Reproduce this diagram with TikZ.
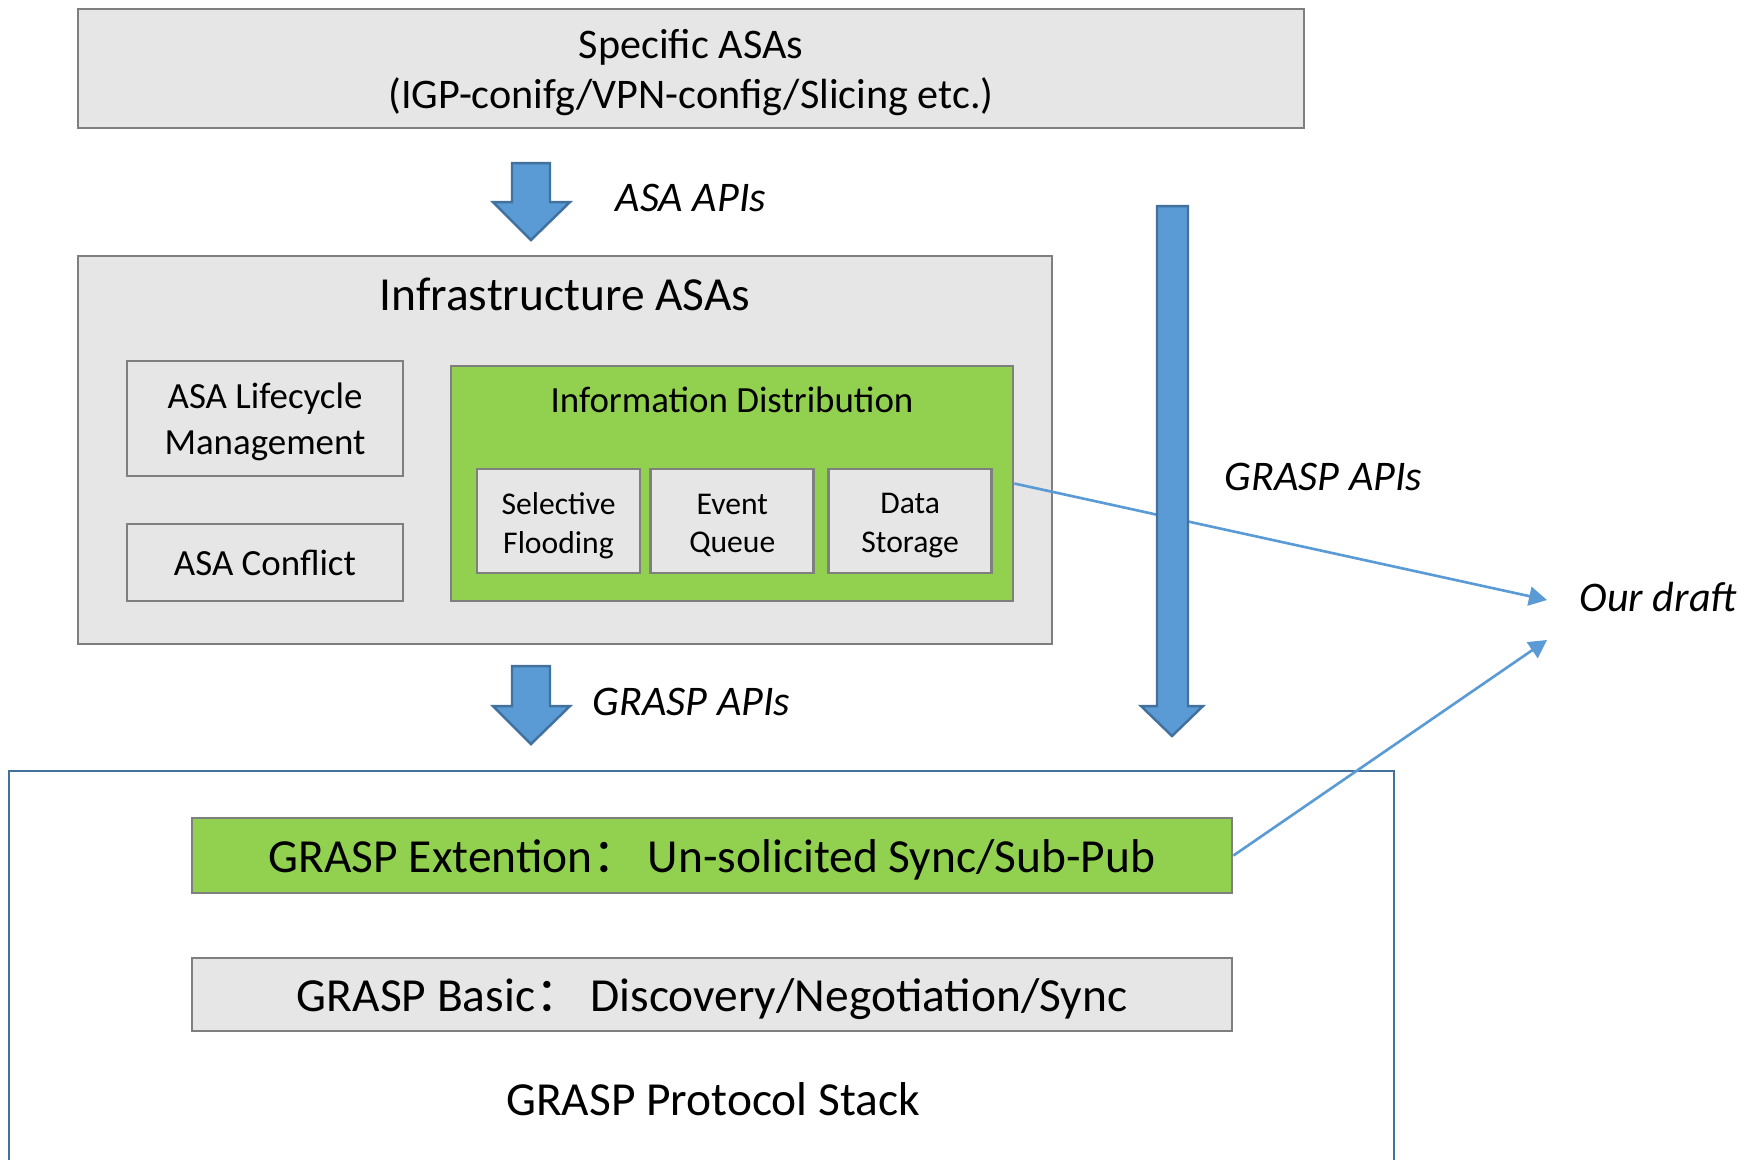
\documentclass[tikz,border=0pt]{standalone}
\usepackage{fontspec}
\setmainfont{Carlito}
\newfontfamily\cjk{Noto Sans CJK SC}
\usetikzlibrary{arrows.meta,positioning,calc}
\definecolor{boxgray}{RGB}{231,230,230}
\definecolor{edgegray}{RGB}{127,127,127}
\definecolor{green}{RGB}{146,208,80}
\definecolor{blue}{RGB}{91,155,213}
\definecolor{darkblue}{RGB}{65,113,156}

% extra room above the first line, pushes box text down a bit
\newcommand\toppad[2]{\raisebox{0pt}[\dimexpr\height+#1\relax]{#2}}

\tikzset{
  graybox/.style={draw=edgegray, fill=boxgray, line width=0.8pt},
  greenbox/.style={draw=edgegray, fill=green, line width=0.8pt},
  bigtext/.style={font=\fontsize{13.5}{16}\selectfont},
  midtext/.style={font=\fontsize{10.5}{13}\selectfont},
  smalltext/.style={font=\fontsize{9}{11}\selectfont},
  apitext/.style={font=\fontsize{12}{14}\selectfont\itshape},
  blockarrow/.style={fill=blue, draw=darkblue, line width=0.7pt},
  link/.style={-{Triangle[length=1.8mm,width=1.9mm]}, line width=0.75pt, blue}
}

\begin{document}
\begin{tikzpicture}[every node/.style={align=center, inner sep=0pt}]
\useasboundingbox (0,0) rectangle (17.52,-11.59);

% top layer
\node[graybox, minimum width=12.26cm, minimum height=1.19cm, font=\fontsize{12}{14.2}\selectfont] (specific) at (6.91,-0.685) {\toppad{0.21em}{Specific ASAs}\\(IGP-conifg/VPN-config/Slicing etc.)};
\draw[blockarrow] (5.12,-1.63) -- (5.50,-1.63) -- (5.50,-2.02) -- (5.70,-2.02) -- (5.31,-2.40) -- (4.93,-2.02) -- (5.12,-2.02) -- cycle;
\node[apitext, anchor=west] (asaapi) at (6.15,-1.98) {ASA APIs};

% infrastructure ASAs
\node[graybox, minimum width=9.74cm, minimum height=3.88cm] (infra) at (5.65,-4.50) {};
\node[bigtext] (infratitle) at ($(infra.north)+(0,-0.40)$) {Infrastructure ASAs};
\node[graybox, midtext, minimum width=2.76cm, minimum height=1.15cm] (lifecycle) at (2.65,-4.185) {\toppad{0.18em}{ASA Lifecycle}\\Management};
\node[graybox, midtext, minimum width=2.76cm, minimum height=0.77cm] (conflict) at (2.65,-5.625) {ASA Conflict};
\node[greenbox, minimum width=5.62cm, minimum height=2.35cm] (infodist) at (7.32,-4.835) {};
\node[midtext] (infotitle) at ($(infodist.north)+(0,-0.35)$) {Information Distribution};
\node[graybox, smalltext, minimum width=1.63cm, minimum height=1.04cm] (flooding) at (5.585,-5.21) {\toppad{0.28em}{Selective}\\Flooding};
\node[graybox, smalltext, minimum width=1.63cm, minimum height=1.04cm, right=0.08cm of flooding] (queue) {\toppad{0.28em}{Event}\\Queue};
\node[graybox, smalltext, minimum width=1.63cm, minimum height=1.04cm, right=0.12cm of queue] (storage) {\toppad{0.28em}{Data}\\Storage};

\draw[blockarrow] (5.12,-6.66) -- (5.50,-6.66) -- (5.50,-7.06) -- (5.70,-7.06) -- (5.31,-7.44) -- (4.93,-7.06) -- (5.12,-7.06) -- cycle;
\node[apitext, anchor=west] (graspapi) at (5.92,-7.02) {GRASP APIs};

% protocol stack
\draw[darkblue, line width=0.8pt] (0.09,-11.8) |- (13.94,-7.71) -- (13.94,-11.8);
\node[greenbox, bigtext, minimum width=10.40cm, minimum height=0.75cm] (extension) at (7.12,-8.555) {\toppad{0.19em}{GRASP Extention{\cjk ：}\,Un-solicited Sync/Sub-Pub}};
\node[graybox, bigtext, minimum width=10.40cm, minimum height=0.73cm] (basic) at (7.12,-9.945) {\toppad{0.19em}{GRASP Basic{\cjk ：}\,Discovery/Negotiation/Sync}};
\node[bigtext] (stacklabel) at (7.13,-10.99) {GRASP Protocol Stack};

% pointers to the draft
\node[apitext, anchor=west] (draft) at (15.79,-5.97) {Our draft};
\coordinate (draftin1) at ($(draft.west)+(-0.32,-0.03)$);
\coordinate (draftin2) at ($(draft.west)+(-0.32,-0.43)$);
\draw[link] (infodist.east) -- (draftin1);
\draw[link] (extension.east) -- (draftin2);

% long GRASP API arrow
\draw[blockarrow] (11.57,-2.06) -- (11.88,-2.06) -- (11.88,-7.06) -- (12.03,-7.06) -- (11.72,-7.36) -- (11.41,-7.06) -- (11.57,-7.06) -- cycle;
\node[apitext, anchor=west] (graspapi2) at (12.24,-4.77) {GRASP APIs};
\end{tikzpicture}
\end{document}
